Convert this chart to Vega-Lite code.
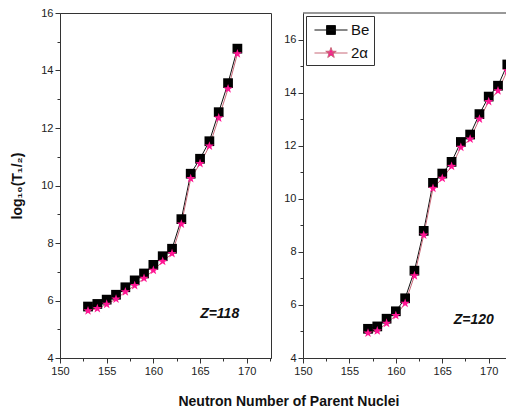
{
  "$schema": "https://vega.github.io/schema/vega-lite/v6.json",
  "padding": {"left": 10, "top": 6, "right": 0, "bottom": 0},
  "background": "white",
  "config": {
    "font": "Liberation Sans",
    "axis": {"labelFont": "Liberation Sans", "labelFontSize": 11, "labelColor": "#222", "domainColor": "#333", "tickColor": "#333", "grid": false, "tickSize": 5, "labelPadding": 2, "labelFlush": false, "labelOverlap": false, "titleFont": "Liberation Sans"},
    "view": {"stroke": "#333", "strokeWidth": 1}
  },
  "datasets": {
    "z118": [
      {"N": 153, "series": "Be", "T": 5.79}, {"N": 154, "series": "Be", "T": 5.88}, {"N": 155, "series": "Be", "T": 6.03},
      {"N": 156, "series": "Be", "T": 6.2}, {"N": 157, "series": "Be", "T": 6.46}, {"N": 158, "series": "Be", "T": 6.7},
      {"N": 159, "series": "Be", "T": 6.94}, {"N": 160, "series": "Be", "T": 7.24}, {"N": 161, "series": "Be", "T": 7.54},
      {"N": 162, "series": "Be", "T": 7.8}, {"N": 163, "series": "Be", "T": 8.83}, {"N": 164, "series": "Be", "T": 10.41},
      {"N": 165, "series": "Be", "T": 10.93}, {"N": 166, "series": "Be", "T": 11.54}, {"N": 167, "series": "Be", "T": 12.55},
      {"N": 168, "series": "Be", "T": 13.56}, {"N": 169, "series": "Be", "T": 14.76},
      {"N": 153, "series": "2α", "T": 5.64}, {"N": 154, "series": "2α", "T": 5.72}, {"N": 155, "series": "2α", "T": 5.87},
      {"N": 156, "series": "2α", "T": 6.05}, {"N": 157, "series": "2α", "T": 6.3}, {"N": 158, "series": "2α", "T": 6.52},
      {"N": 159, "series": "2α", "T": 6.77}, {"N": 160, "series": "2α", "T": 7.05}, {"N": 161, "series": "2α", "T": 7.36},
      {"N": 162, "series": "2α", "T": 7.63}, {"N": 163, "series": "2α", "T": 8.66}, {"N": 164, "series": "2α", "T": 10.24},
      {"N": 165, "series": "2α", "T": 10.76}, {"N": 166, "series": "2α", "T": 11.37}, {"N": 167, "series": "2α", "T": 12.35},
      {"N": 168, "series": "2α", "T": 13.36}, {"N": 169, "series": "2α", "T": 14.58}
    ],
    "z120": [
      {"N": 157, "series": "Be", "T": 5.1}, {"N": 158, "series": "Be", "T": 5.19}, {"N": 159, "series": "Be", "T": 5.48},
      {"N": 160, "series": "Be", "T": 5.76}, {"N": 161, "series": "Be", "T": 6.25}, {"N": 162, "series": "Be", "T": 7.29},
      {"N": 163, "series": "Be", "T": 8.79}, {"N": 164, "series": "Be", "T": 10.6}, {"N": 165, "series": "Be", "T": 10.95},
      {"N": 166, "series": "Be", "T": 11.39}, {"N": 167, "series": "Be", "T": 12.14}, {"N": 168, "series": "Be", "T": 12.42},
      {"N": 169, "series": "Be", "T": 13.19}, {"N": 170, "series": "Be", "T": 13.85}, {"N": 171, "series": "Be", "T": 14.26},
      {"N": 172, "series": "Be", "T": 15.06}, {"N": 173, "series": "Be", "T": 15.85},
      {"N": 157, "series": "2α", "T": 4.94}, {"N": 158, "series": "2α", "T": 5.02}, {"N": 159, "series": "2α", "T": 5.31},
      {"N": 160, "series": "2α", "T": 5.6}, {"N": 161, "series": "2α", "T": 6.06}, {"N": 162, "series": "2α", "T": 7.1},
      {"N": 163, "series": "2α", "T": 8.63}, {"N": 164, "series": "2α", "T": 10.39}, {"N": 165, "series": "2α", "T": 10.77},
      {"N": 166, "series": "2α", "T": 11.22}, {"N": 167, "series": "2α", "T": 11.94}, {"N": 168, "series": "2α", "T": 12.25},
      {"N": 169, "series": "2α", "T": 13.0}, {"N": 170, "series": "2α", "T": 13.66}, {"N": 171, "series": "2α", "T": 14.07},
      {"N": 172, "series": "2α", "T": 14.82}, {"N": 173, "series": "2α", "T": 15.6}
    ]
  },
  "title": {"text": "Neutron Number of Parent Nuclei", "orient": "bottom", "anchor": "middle", "fontSize": 14, "fontWeight": "bold", "font": "Liberation Sans", "color": "#111", "offset": 18, "dx": 28},
  "spacing": 11,
  "resolve": {"scale": {"color": "independent", "fill": "independent", "shape": "independent"}, "legend": {"shape": "independent", "color": "independent", "fill": "independent"}},
  "hconcat": [
    {
      "width": 211, "height": 345,
      "resolve": {"axis": {"x": "independent", "y": "independent"}},
      "layer": [
        {"data": {"name": "z118"},
         "mark": {"type": "line", "strokeWidth": 1},
         "encoding": {
           "x": {"field": "N", "type": "quantitative", "scale": {"domain": [150, 172.6], "nice": false, "zero": false}, "axis": {"values": [150, 155, 160, 165, 170], "title": null, "orient": "bottom"}},
           "y": {"field": "T", "type": "quantitative", "scale": {"domain": [4, 16], "nice": false, "zero": false}, "axis": {"values": [4, 6, 8, 10, 12, 14, 16], "orient": "left", "title": "log₁₀(T₁/₂)", "titleFontSize": 14, "titleFontWeight": "bold", "titleColor": "#111", "titlePadding": 16}},
           "color": {"field": "series", "type": "nominal", "scale": {"domain": ["Be", "2α"], "range": ["#111111", "#c86878"]}, "legend": null}}},
        {"data": {"name": "z118"},
         "mark": {"type": "point", "filled": true, "opacity": 1, "strokeWidth": 0, "size": 95},
         "encoding": {
           "x": {"field": "N", "type": "quantitative", "axis": {"values": [152.5, 157.5, 162.5, 167.5, 172.5], "labels": false, "domain": false, "tickSize": 3, "title": null, "orient": "bottom"}},
           "y": {"field": "T", "type": "quantitative", "axis": {"values": [5, 7, 9, 11, 13, 15], "labels": false, "domain": false, "tickSize": 3, "title": null, "orient": "left"}},
           "fill": {"field": "series", "type": "nominal", "scale": {"domain": ["Be", "2α"], "range": ["#000000", "#ff1493"]}, "legend": null},
           "shape": {"field": "series", "type": "nominal", "scale": {"domain": ["Be", "2α"], "range": ["square", "M0,-1L0.235,-0.324L0.951,-0.309L0.380,0.124L0.588,0.809L0,0.4L-0.588,0.809L-0.380,0.124L-0.951,-0.309L-0.235,-0.324Z"]}, "legend": null}
         }},
        {"data": {"values": [{}]},
         "mark": {"type": "text", "fontStyle": "italic", "fontWeight": "bold", "fontSize": 14, "color": "#111"},
         "encoding": {"x": {"datum": 167.1, "axis": null}, "y": {"datum": 5.53, "axis": null}, "text": {"value": "Z=118"}}}
      ]
    },
    {
      "width": 208, "height": 345,
      "view": {"stroke": null},
      "resolve": {"axis": {"x": "independent", "y": "independent"}},
      "layer": [
        {"data": {"name": "z120"},
         "mark": {"type": "line", "strokeWidth": 1, "clip": true},
         "encoding": {
           "x": {"field": "N", "type": "quantitative", "scale": {"domain": [150, 172.4], "nice": false, "zero": false}, "axis": {"values": [150, 155, 160, 165, 170], "title": null, "orient": "bottom"}},
           "y": {"field": "T", "type": "quantitative", "scale": {"domain": [4, 17], "nice": false, "zero": false}, "axis": {"values": [4, 6, 8, 10, 12, 14, 16], "title": null, "orient": "left"}},
           "color": {"field": "series", "type": "nominal", "scale": {"domain": ["Be", "2α"], "range": ["#111111", "#c86878"]},
             "legend": {"orient": "top-left", "offset": 3, "padding": 4, "title": null, "strokeColor": "#333", "fillColor": "white", "symbolSize": 361, "symbolOffset": 11, "symbolStrokeWidth": 1, "labelFontSize": 15, "labelFont": "Liberation Sans", "labelColor": "#111", "rowPadding": 5, "labelOffset": 10,
               "encode": {"symbols": {"update": {
                 "shape": {"signal": "datum.value === 'Be' ? 'M-1.74,0H1.74M-0.47,-0.47H0.47V0.47H-0.47Z' : 'M-1.74,0H1.74M0,-0.58L0.136,-0.188L0.552,-0.179L0.220,0.072L0.341,0.469L0,0.232L-0.341,0.469L-0.220,0.072L-0.552,-0.179L-0.136,-0.188Z'"},
                 "fill": {"signal": "datum.value === 'Be' ? '#000000' : '#ff1493'"},
                 "stroke": {"signal": "datum.value === 'Be' ? '#111111' : '#c86878'"},
                 "size": {"value": 361},
                 "strokeWidth": {"value": 1},
                 "opacity": {"value": 1}
               }}}}}}},
        {"data": {"name": "z120"},
         "mark": {"type": "point", "filled": true, "opacity": 1, "strokeWidth": 0, "size": 95, "clip": true},
         "encoding": {
           "x": {"field": "N", "type": "quantitative", "axis": {"values": [152.5, 157.5, 162.5, 167.5], "labels": false, "domain": false, "tickSize": 3, "title": null, "orient": "bottom"}},
           "y": {"field": "T", "type": "quantitative", "axis": {"values": [5, 7, 9, 11, 13, 15], "labels": false, "domain": false, "tickSize": 3, "title": null, "orient": "left"}},
           "fill": {"field": "series", "type": "nominal", "scale": {"domain": ["Be", "2α", "-"], "range": ["#000000", "#ff1493", "#ff1493"]}, "legend": null},
           "shape": {"field": "series", "type": "nominal", "scale": {"domain": ["Be", "2α", "-"], "range": ["square", "M0,-1L0.235,-0.324L0.951,-0.309L0.380,0.124L0.588,0.809L0,0.4L-0.588,0.809L-0.380,0.124L-0.951,-0.309L-0.235,-0.324Z", "circle"]}, "legend": null}
         }},
        {"data": {"values": [{}]},
         "mark": {"type": "rule", "color": "#333", "strokeWidth": 1},
         "encoding": {"y": {"datum": 17, "axis": null}}},
        {"data": {"values": [{}]},
         "mark": {"type": "text", "fontStyle": "italic", "fontWeight": "bold", "fontSize": 14, "color": "#111"},
         "encoding": {"x": {"datum": 168.4, "axis": null}, "y": {"datum": 5.45, "axis": null}, "text": {"value": "Z=120"}}}
      ]
    }
  ]
}
